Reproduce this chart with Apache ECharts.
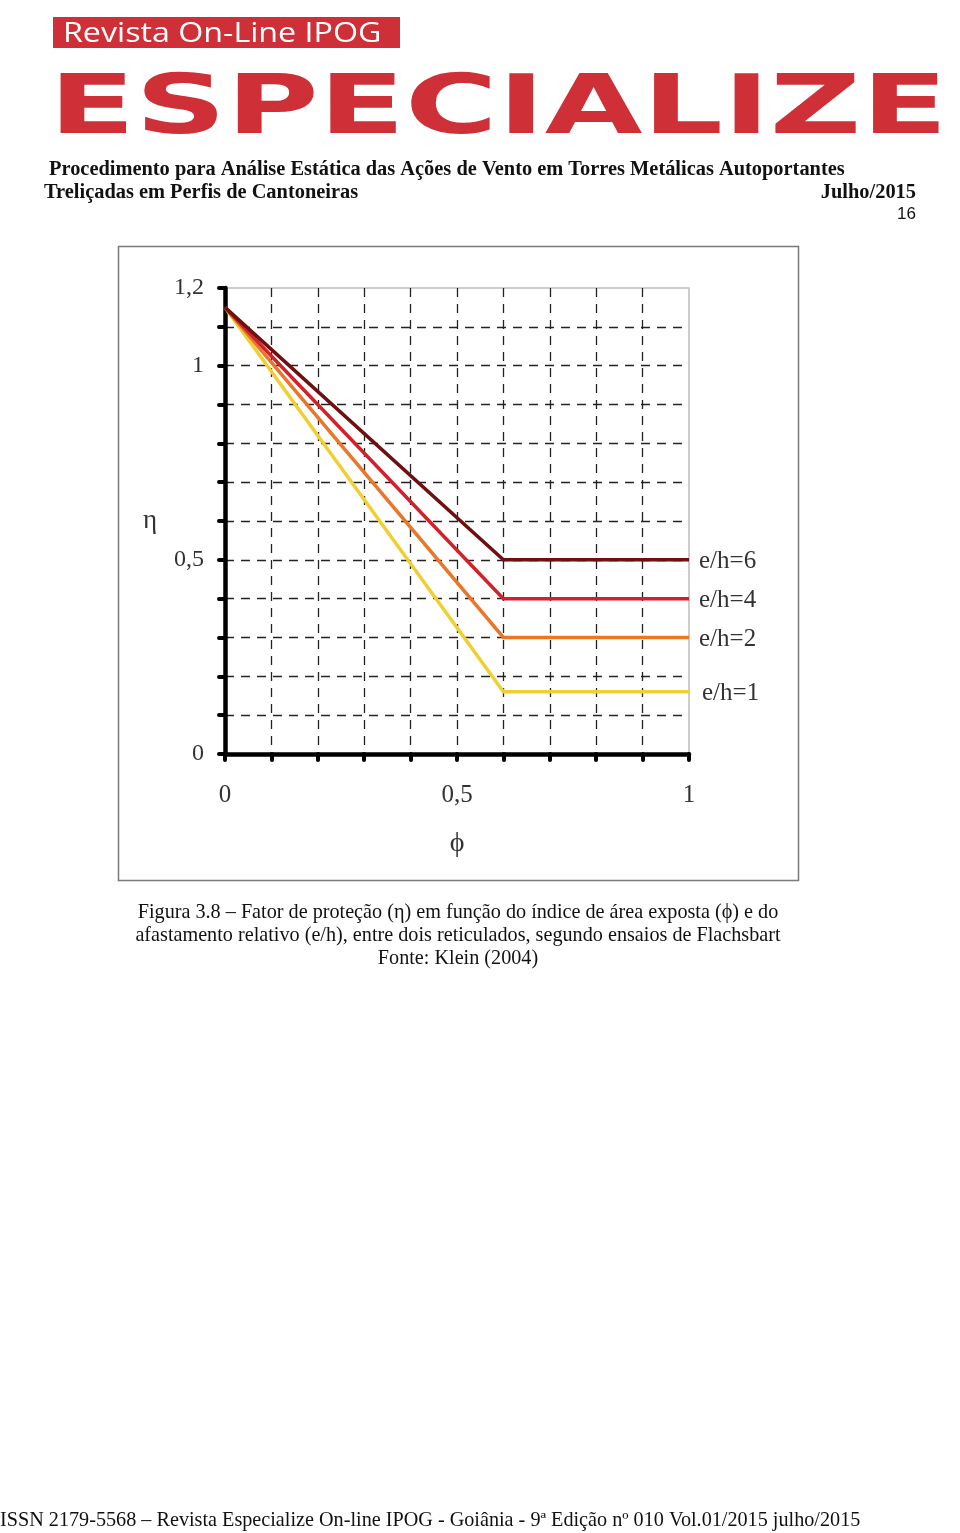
<!DOCTYPE html>
<html>
<head>
<meta charset="utf-8">
<script src="https://cdn.jsdelivr.net/npm/echarts@6/dist/echarts.min.js"></script>
<style>
  html, body { margin: 0; padding: 0; background: #ffffff; }
  #chart { width: 960px; height: 1533px; }
</style>
</head>
<body>
<div id="chart"></div>
<script>
// ---- data ----
const seriesNames = ['e/h=1', 'e/h=2', 'e/h=4', 'e/h=6'];
const phiPoints = [0, 0.6, 1];
const eta_eh1 = [1.15, 0.16, 0.16];
const eta_eh2 = [1.15, 0.30, 0.30];
const eta_eh4 = [1.15, 0.40, 0.40];
const eta_eh6 = [1.15, 0.50, 0.50];
const seriesColors = ['#f0cf33', '#e9772a', '#d4202a', '#6e0f10'];
const xTickLabels = { '0': '0', '0.5': '0,5', '1': '1' };
const yTickLabels = { '0': '0', '0.5': '0,5', '1': '1', '1.2': '1,2' };

const headerLine1 = 'Procedimento para Análise Estática das Ações de Vento em Torres Metálicas Autoportantes';
const headerLine2 = 'Treliçadas em Perfis de Cantoneiras';
const headerDate = 'Julho/2015';
const pageNumber = '16';
const captionLines = [
  'Figura 3.8 – Fator de proteção (η) em função do índice de área exposta (ϕ) e do',
  'afastamento relativo (e/h), entre dois reticulados, segundo ensaios de Flachsbart',
  'Fonte: Klein (2004)'
];
const footerText = 'ISSN 2179-5568 – Revista Especialize On-line IPOG - Goiânia - 9ª Edição nº 010 Vol.01/2015 julho/2015';

const etaValues = [eta_eh1, eta_eh2, eta_eh4, eta_eh6];

function tickKey(v) { return String(Math.round(v * 10) / 10); }

const serif = '"Liberation Serif", "DejaVu Serif", serif';
const red = '#cf3038';

const chart = echarts.init(document.getElementById('chart'), null, { renderer: 'canvas' });

const series = seriesNames.map((name, i) => ({
  name: name,
  type: 'line',
  data: phiPoints.map((x, j) => [x, etaValues[i][j]]),
  showSymbol: false,
  symbol: 'none',
  silent: true,
  z: 5 + i,
  lineStyle: { color: seriesColors[i], width: 3.5, cap: 'butt', join: 'miter' },
  endLabel: {
    show: true,
    formatter: '{a}',
    distance: i === 0 ? 13 : 10,
    offset: [0, 2],
    fontFamily: serif,
    fontSize: 25,
    color: '#333'
  }
}));

const option = {
  animation: false,
  backgroundColor: '#ffffff',
  grid: {
    left: 225, top: 288, width: 464, height: 466,
    show: true, borderColor: '#bdbdbd', borderWidth: 1.5, backgroundColor: 'transparent'
  },
  xAxis: {
    type: 'value', min: 0, max: 1, interval: 0.1,
    name: 'ϕ', nameLocation: 'middle', nameGap: 76,
    nameTextStyle: { fontFamily: serif, fontSize: 28, color: '#333' },
    axisLine: { show: true, onZero: false, lineStyle: { color: '#000', width: 4.5, cap: 'round' } },
    axisTick: { show: true, inside: false, length: 6, lineStyle: { color: '#000', width: 4, cap: 'round' } },
    axisLabel: {
      margin: 29, fontFamily: serif, fontSize: 25, color: '#333', showMinLabel: true, showMaxLabel: true,
      formatter: v => xTickLabels[tickKey(v)] || ''
    },
    splitLine: { show: true, showMinLine: false, showMaxLine: false, lineStyle: { color: '#222', width: 1.3, type: [9, 7] } }
  },
  yAxis: {
    type: 'value', min: 0, max: 1.2, interval: 0.1,
    name: 'η', nameLocation: 'middle', nameGap: 68, nameRotate: 0,
    nameTextStyle: { fontFamily: serif, fontSize: 27, color: '#333', padding: [20, 0, 0, 0] },
    axisLine: { show: true, onZero: false, lineStyle: { color: '#000', width: 4.5, cap: 'round' } },
    axisTick: { show: true, inside: false, length: 6, lineStyle: { color: '#000', width: 4, cap: 'round' } },
    axisLabel: {
      margin: 21, fontFamily: serif, fontSize: 24, color: '#333', showMinLabel: true, showMaxLabel: true,
      formatter: v => yTickLabels[tickKey(v)] || ''
    },
    splitLine: { show: true, showMinLine: false, showMaxLine: false, lineStyle: { color: '#222', width: 1.3, type: [9, 7] } }
  },
  series: series,
  graphic: [
    // chart frame
    { type: 'rect', shape: { x: 118.5, y: 246.5, width: 680, height: 634 }, style: { fill: 'none', stroke: '#7a7a7a', lineWidth: 1.5 }, z: 0 },
    // logo box
    { type: 'rect', shape: { x: 53, y: 17, width: 347, height: 31 }, style: { fill: red } },
    { type: 'text', x: 63, y: 34, scaleX: 1.15, scaleY: 1,
      style: { text: 'Revista On-Line IPOG', fill: '#ffffff', font: '28px "Open Sans", "DejaVu Sans", sans-serif', verticalAlign: 'middle', align: 'left' } },
    { type: 'text', x: 49, y: 112, scaleX: 1.54, scaleY: 1,
      style: { text: 'ESPECIALIZE', fill: red, font: 'bold 82px "DejaVu Sans", sans-serif', verticalAlign: 'middle', align: 'left' } },
    // header
    { type: 'text', x: 49, y: 170, style: { text: headerLine1, fill: '#111', font: 'bold 20.4px ' + serif, verticalAlign: 'middle', align: 'left' } },
    { type: 'text', x: 44, y: 193, style: { text: headerLine2, fill: '#111', font: 'bold 20.4px ' + serif, verticalAlign: 'middle', align: 'left' } },
    { type: 'text', x: 916, y: 193, style: { text: headerDate, fill: '#111', font: 'bold 20.4px ' + serif, verticalAlign: 'middle', align: 'right' } },
    { type: 'text', x: 916, y: 214, style: { text: pageNumber, fill: '#111', font: '17px "Liberation Sans", Arial, sans-serif', verticalAlign: 'middle', align: 'right' } },
    // caption
    { type: 'text', x: 458, y: 913, style: { text: captionLines[0], fill: '#111', font: '20.2px ' + serif, verticalAlign: 'middle', align: 'center' } },
    { type: 'text', x: 458, y: 936, style: { text: captionLines[1], fill: '#111', font: '20.2px ' + serif, verticalAlign: 'middle', align: 'center' } },
    { type: 'text', x: 458, y: 959, style: { text: captionLines[2], fill: '#111', font: '20.2px ' + serif, verticalAlign: 'middle', align: 'center' } },
    // footer
    { type: 'text', x: 0, y: 1521, style: { text: footerText, fill: '#111', font: '20.2px ' + serif, verticalAlign: 'middle', align: 'left' } }
  ]
};

chart.setOption(option);
</script>
</body>
</html>
